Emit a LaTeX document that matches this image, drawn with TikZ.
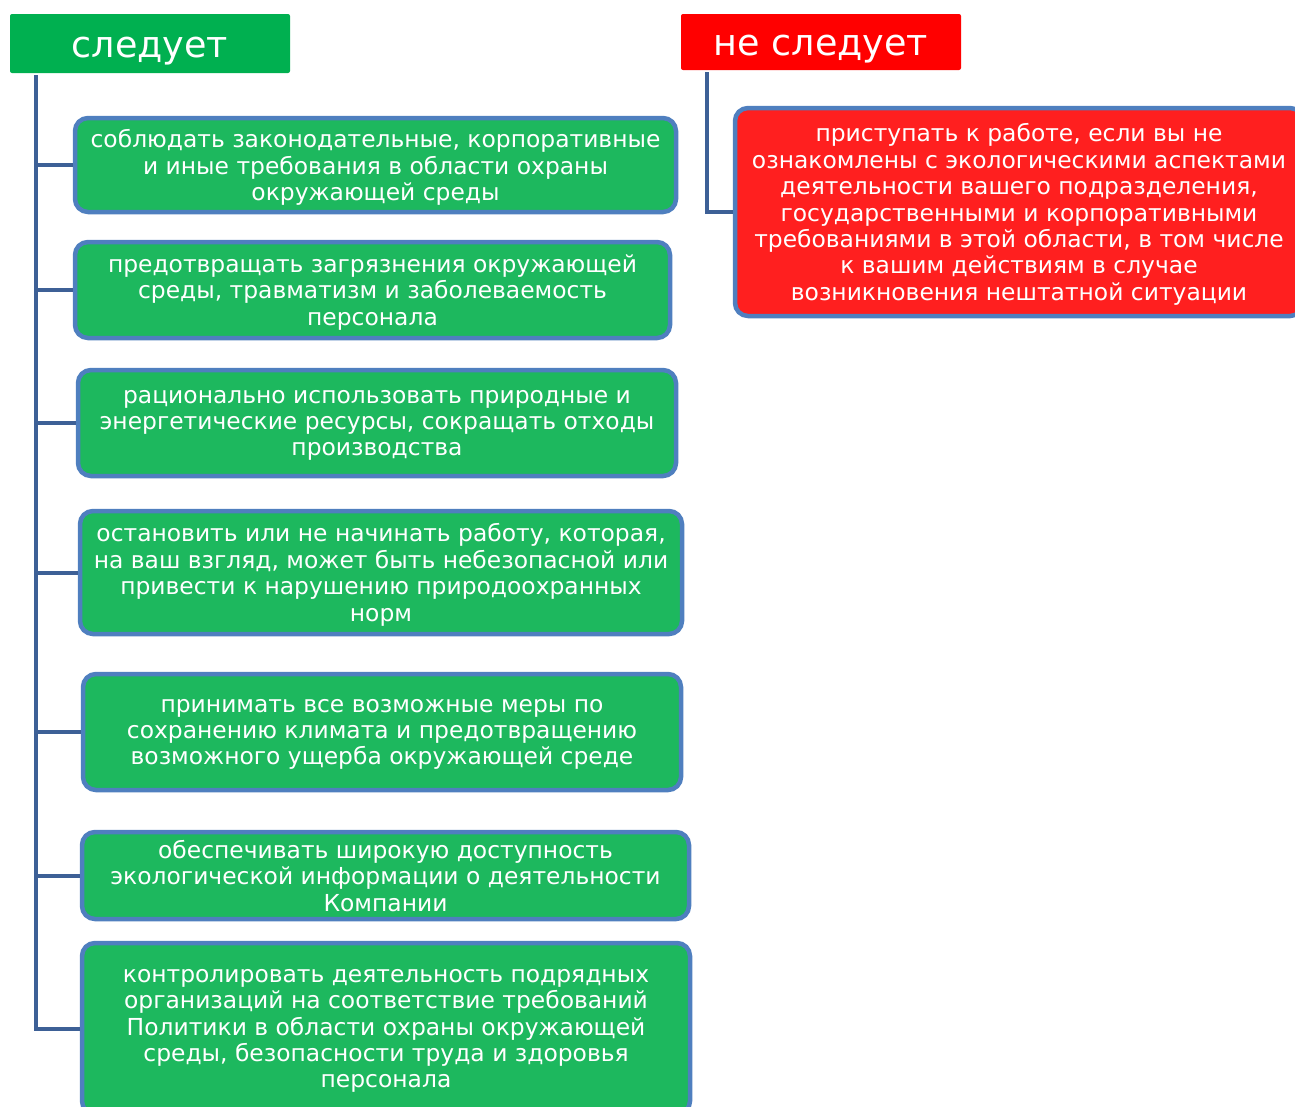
\documentclass[tikz,border=0pt]{standalone}
\usepackage{fontspec}
\setmainfont{DejaVu Sans}
\definecolor{hgreen}{HTML}{00B050}
\definecolor{bgreen}{HTML}{1DB85E}
\definecolor{hred}{HTML}{FF0000}
\definecolor{bred}{HTML}{FF1F1F}
\definecolor{bord}{HTML}{4F7FBF}
\definecolor{connc}{HTML}{3D6096}
\begin{document}
\begin{tikzpicture}[x=1pt,y=-1pt,
  head/.style={rounded corners=2pt, text=white, inner sep=0pt, text height=27pt, text depth=0pt, font=\fontsize{36.5}{40}\selectfont},
  gbox/.style={draw=bord, line width=4.5pt, fill=bgreen, rounded corners=13pt, text=white, align=center, inner sep=0pt, text depth=0pt, font=\fontsize{23.4}{26.4}\selectfont},
  rbox/.style={gbox, fill=bred},
  conn/.style={draw=connc, line width=4pt}]
\useasboundingbox (0,0) rectangle (1295,1106);
\node[head, fill=hgreen, minimum width=280, minimum height=59] (hg) at (150,43.5) {следует};
\node[head, fill=hred, minimum width=280, minimum height=56] (hr) at (821,42) {не следует};
\node[gbox, minimum width=601, minimum height=94] (b1) at (375.5,165) {соблюдать законодательные, корпоративные\\и иные требования в области охраны\\окружающей среды};
\node[gbox, minimum width=595, minimum height=96] (b2) at (372.5,290) {предотвращать загрязнения окружающей\\среды, травматизм и заболеваемость\\персонала};
\node[gbox, minimum width=598, minimum height=106] (b3) at (377,423) {рационально использовать природные и\\энергетические ресурсы, сокращать отходы\\производства};
\node[gbox, minimum width=602, minimum height=123] (b4) at (381,572.5) {остановить или не начинать работу, которая,\\на ваш взгляд, может быть небезопасной или\\привести к нарушению природоохранных\\норм};
\node[gbox, minimum width=598, minimum height=116] (b5) at (382,732) {принимать все возможные меры по\\сохранению климата и предотвращению\\возможного ущерба окружающей среде};
\node[gbox, minimum width=607, minimum height=87] (b6) at (385.5,875.5) {обеспечивать широкую доступность\\экологической информации о деятельности\\Компании};
\node[gbox, minimum width=608, minimum height=171] (b7) at (386,1028.5) {контролировать деятельность подрядных\\организаций на соответствие требований\\Политики в области охраны окружающей\\среды, безопасности труда и здоровья\\персонала};
\node[rbox, minimum width=568, minimum height=208] (rb) at (1019,212) {приступать к работе, если вы не\\ознакомлены с экологическими аспектами\\деятельности вашего подразделения,\\государственными и корпоративными\\требованиями в этой области, в том числе\\к вашим действиям в случае\\возникновения нештатной ситуации};
\coordinate (trunk) at (36,75);
\draw[conn] (trunk) |- (b7.west);
\foreach \b in {b1,b2,b3,b4,b5,b6}{\draw[conn] (\b.west) -- (\b.west -| trunk);}
\coordinate (rtrunk) at (707,72);
\draw[conn] (rtrunk) |- (rb.west);
\end{tikzpicture}
\end{document}
